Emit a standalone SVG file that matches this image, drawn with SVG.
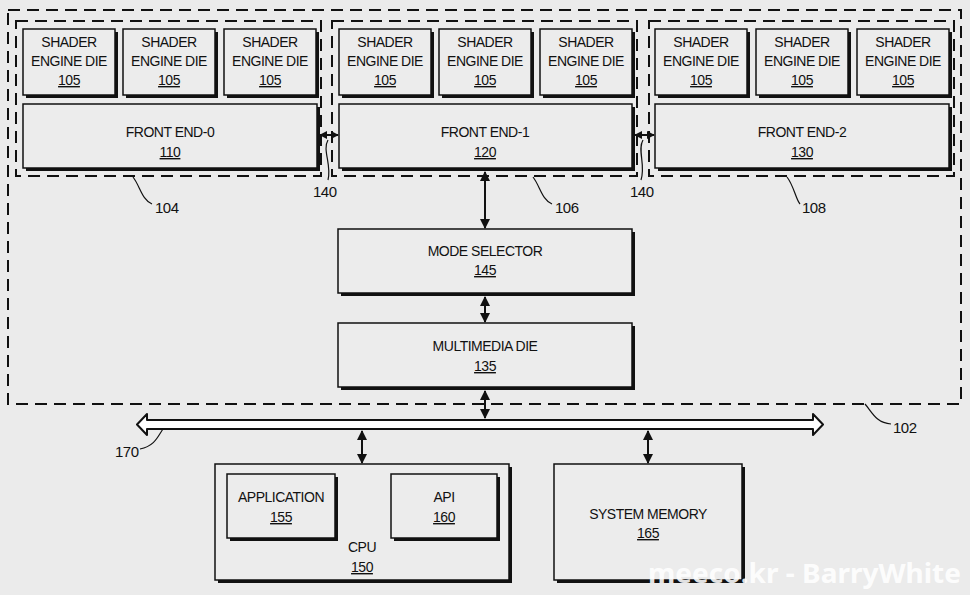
<svg xmlns="http://www.w3.org/2000/svg" width="970" height="595" viewBox="0 0 970 595">
<defs>
<marker id="ah" viewBox="0 0 10 10" refX="9" refY="5" markerWidth="10" markerHeight="10" markerUnits="userSpaceOnUse" orient="auto-start-reverse"><path d="M0,0 L10,5 L0,10 z" fill="#111"/></marker>
<marker id="ahs" viewBox="0 0 10 10" refX="9" refY="5" markerWidth="8" markerHeight="8" markerUnits="userSpaceOnUse" orient="auto-start-reverse"><path d="M0,0 L10,5 L0,10 z" fill="#111"/></marker>
</defs>
<style>
.bg{fill:#ebebeb}
.sh{fill:#111}
.bx{fill:#ececec;stroke:#111;stroke-width:1.5}
.dash{fill:none;stroke:#111;stroke-width:2;stroke-dasharray:12 7}
.t{font-family:"Liberation Sans",Arial,sans-serif;font-size:14px;fill:#111;text-anchor:middle;letter-spacing:-0.5px}
.u{text-decoration:underline}
.lbl{font-family:"Liberation Sans",Arial,sans-serif;font-size:15px;fill:#111;letter-spacing:-0.5px}
.ld{fill:none;stroke:#111;stroke-width:1.2}
.ar{fill:none;stroke:#111;stroke-width:2}
.wm{font-family:"Noto Sans",sans-serif;font-size:27px;font-weight:bold;fill:#fff;fill-opacity:0.9}
</style>
<rect class="bg" x="0" y="0" width="970" height="595"/>

<g id="group-102"><rect class="dash" x="8" y="10" width="953" height="394"/></g>
<g id="group-104"><rect class="dash" x="16" y="21" width="305" height="155"/></g>
<g id="group-106"><rect class="dash" x="332" y="21" width="305" height="155"/></g>
<g id="group-108"><rect class="dash" x="649" y="21" width="305" height="155"/></g>

<g id="se-104-1"><rect class="sh" x="26" y="32" width="92" height="66"/><rect class="bx" x="23" y="29" width="92" height="66"/><text class="t" x="69" y="47">SHADER</text><text class="t" x="69" y="66">ENGINE DIE</text><text class="t u" x="69" y="85">105</text></g>
<g id="se-104-2"><rect class="sh" x="126" y="32" width="92" height="66"/><rect class="bx" x="123" y="29" width="92" height="66"/><text class="t" x="169" y="47">SHADER</text><text class="t" x="169" y="66">ENGINE DIE</text><text class="t u" x="169" y="85">105</text></g>
<g id="se-104-3"><rect class="sh" x="227" y="32" width="92" height="66"/><rect class="bx" x="224" y="29" width="92" height="66"/><text class="t" x="270" y="47">SHADER</text><text class="t" x="270" y="66">ENGINE DIE</text><text class="t u" x="270" y="85">105</text></g>
<g id="fe-110"><rect class="sh" x="26" y="107" width="294" height="64"/><rect class="bx" x="23" y="104" width="294" height="64"/><text class="t" x="170" y="137">FRONT END-0</text><text class="t u" x="170" y="157">110</text></g>

<g id="se-106-1"><rect class="sh" x="342" y="32" width="92" height="66"/><rect class="bx" x="339" y="29" width="92" height="66"/><text class="t" x="385" y="47">SHADER</text><text class="t" x="385" y="66">ENGINE DIE</text><text class="t u" x="385" y="85">105</text></g>
<g id="se-106-2"><rect class="sh" x="442" y="32" width="92" height="66"/><rect class="bx" x="439" y="29" width="92" height="66"/><text class="t" x="485" y="47">SHADER</text><text class="t" x="485" y="66">ENGINE DIE</text><text class="t u" x="485" y="85">105</text></g>
<g id="se-106-3"><rect class="sh" x="543" y="32" width="92" height="66"/><rect class="bx" x="540" y="29" width="92" height="66"/><text class="t" x="586" y="47">SHADER</text><text class="t" x="586" y="66">ENGINE DIE</text><text class="t u" x="586" y="85">105</text></g>
<g id="fe-120"><rect class="sh" x="342" y="107" width="293" height="64"/><rect class="bx" x="339" y="104" width="293" height="64"/><text class="t" x="485" y="137">FRONT END-1</text><text class="t u" x="485" y="157">120</text></g>

<g id="se-108-1"><rect class="sh" x="658" y="32" width="92" height="66"/><rect class="bx" x="655" y="29" width="92" height="66"/><text class="t" x="701" y="47">SHADER</text><text class="t" x="701" y="66">ENGINE DIE</text><text class="t u" x="701" y="85">105</text></g>
<g id="se-108-2"><rect class="sh" x="759" y="32" width="92" height="66"/><rect class="bx" x="756" y="29" width="92" height="66"/><text class="t" x="802" y="47">SHADER</text><text class="t" x="802" y="66">ENGINE DIE</text><text class="t u" x="802" y="85">105</text></g>
<g id="se-108-3"><rect class="sh" x="860" y="32" width="92" height="66"/><rect class="bx" x="857" y="29" width="92" height="66"/><text class="t" x="903" y="47">SHADER</text><text class="t" x="903" y="66">ENGINE DIE</text><text class="t u" x="903" y="85">105</text></g>
<g id="fe-130"><rect class="sh" x="658" y="107" width="294" height="64"/><rect class="bx" x="655" y="104" width="294" height="64"/><text class="t" x="802" y="137">FRONT END-2</text><text class="t u" x="802" y="157">130</text></g>

<g id="mode-selector-145"><rect class="sh" x="341" y="232" width="294" height="64"/><rect class="bx" x="338" y="229" width="294" height="64"/><text class="t" x="485" y="256">MODE SELECTOR</text><text class="t u" x="485" y="275">145</text></g>
<g id="multimedia-135"><rect class="sh" x="341" y="326" width="294" height="64"/><rect class="bx" x="338" y="323" width="294" height="64"/><text class="t" x="485" y="351">MULTIMEDIA DIE</text><text class="t u" x="485" y="371">135</text></g>

<g id="bus-170"><path d="M137,424.5 L147,414 L147,420 L813,420 L813,414 L823,424.5 L813,435 L813,429 L147,429 L147,435 Z" fill="#fff" stroke="#111" stroke-width="2" stroke-linejoin="round"/></g>

<g id="cpu-150"><rect class="sh" x="218" y="467" width="294" height="116"/><rect class="bx" x="215" y="464" width="294" height="116"/><text class="t" x="362" y="552">CPU</text><text class="t u" x="362" y="572">150</text></g>
<g id="application-155"><rect class="sh" x="230" y="477" width="108" height="64"/><rect class="bx" x="227" y="474" width="108" height="64"/><text class="t" x="281" y="502">APPLICATION</text><text class="t u" x="281" y="522">155</text></g>
<g id="api-160"><rect class="sh" x="394" y="477" width="106" height="64"/><rect class="bx" x="391" y="474" width="106" height="64"/><text class="t" x="444" y="502">API</text><text class="t u" x="444" y="522">160</text></g>
<g id="system-memory-165"><rect class="sh" x="557" y="467" width="188" height="116"/><rect class="bx" x="554" y="464" width="188" height="116"/><text class="t" x="648" y="519">SYSTEM MEMORY</text><text class="t u" x="648" y="538">165</text></g>

<g id="connectors">
<line class="ar" x1="485" y1="172" x2="485" y2="228" marker-start="url(#ah)" marker-end="url(#ah)"/>
<line class="ar" x1="485" y1="297" x2="485" y2="322" marker-start="url(#ah)" marker-end="url(#ah)"/>
<line class="ar" x1="485" y1="391" x2="485" y2="418" marker-start="url(#ah)" marker-end="url(#ah)"/>
<line class="ar" x1="362" y1="431" x2="362" y2="463" marker-start="url(#ah)" marker-end="url(#ah)"/>
<line class="ar" x1="648" y1="431" x2="648" y2="463" marker-start="url(#ah)" marker-end="url(#ah)"/>
<line class="ar" x1="320" y1="135" x2="338" y2="135" marker-start="url(#ahs)" marker-end="url(#ahs)"/>
<line class="ar" x1="635" y1="135" x2="654" y2="135" marker-start="url(#ahs)" marker-end="url(#ahs)"/>
</g>

<g id="labels">
<path class="ld" d="M133,177 C140,186 142,200 152,204"/>
<text class="lbl" x="155" y="213">104</text>
<path class="ld" d="M533,177 C540,186 542,200 552,204"/>
<text class="lbl" x="555" y="213">106</text>
<path class="ld" d="M787,177 C794,186 796,200 800,204"/>
<text class="lbl" x="802" y="213">108</text>
<path class="ld" d="M865,404 C872,412 876,423 891,424"/>
<text class="lbl" x="893" y="433">102</text>
<path class="ld" d="M163,429 C158,436 155,446 140,449"/>
<text class="lbl" x="115" y="457">170</text>
<path class="ld" d="M328,140 C322,150 332,165 328,180"/>
<text class="lbl" x="313" y="197">140</text>
<path class="ld" d="M643,140 C637,150 646,165 641,180"/>
<text class="lbl" x="630" y="197">140</text>
</g>

<text class="wm" x="648" y="583" textLength="313" lengthAdjust="spacingAndGlyphs">meeco.kr - BarryWhite</text>
</svg>
